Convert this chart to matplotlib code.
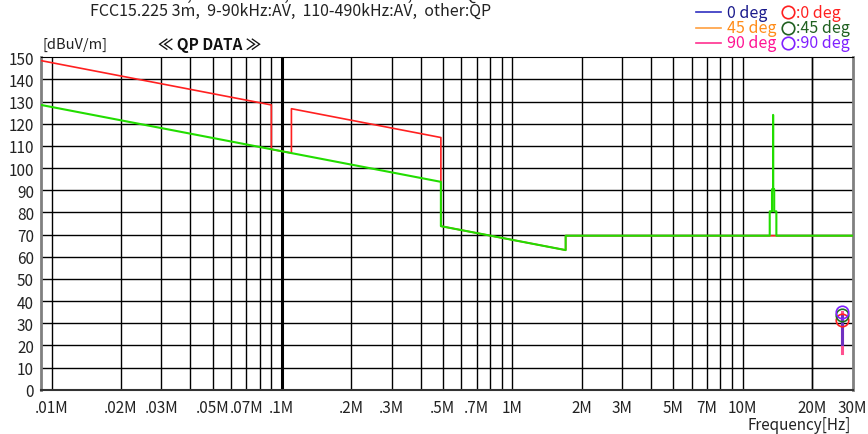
import numpy as np
import matplotlib
matplotlib.use('Agg')
import matplotlib.pyplot as plt
from matplotlib.lines import Line2D

plt.rcParams['font.family'] = ['Noto Sans CJK JP', 'DejaVu Sans']

# Limit lines (frequency in Hz, level in dBuV/m)
peak_f = [9e3, 90e3, 90e3, 110e3, 110e3, 490e3, 490e3, 1.705e6, 1.705e6, 30e6]
peak_db = [148.5, 128.5, 108.5, 106.8, 126.8, 113.8, 73.8, 63.0, 69.5, 69.5]

avg_f = [9e3, 490e3, 490e3, 1.705e6, 1.705e6, 13.11e6, 13.11e6, 13.41e6, 13.41e6,
         13.553e6, 13.553e6, 13.567e6, 13.567e6, 13.71e6, 13.71e6, 14.01e6, 14.01e6, 30e6]
avg_db = [128.5, 93.8, 73.8, 63.0, 69.5, 69.5, 80.5, 80.5, 90.5,
          90.5, 124.0, 124.0, 90.5, 90.5, 80.5, 80.5, 69.5, 69.5]

# Measured traces / QP points at 27.12 MHz
meas_f = 27.12e6
trace_90 = [16.5, 34.9]
trace_0 = [20.5, 33.5]
qp_0 = 31.5
qp_45 = 33.7
qp_90 = 34.9

xtick_vals = [1e4, 2e4, 3e4, 5e4, 7e4, 1e5, 2e5, 3e5, 5e5, 7e5,
              1e6, 2e6, 3e6, 5e6, 7e6, 1e7, 2e7, 3e7]
xtick_labels = ['.01M', '.02M', '.03M', '.05M', '.07M', '.1M', '.2M', '.3M', '.5M', '.7M',
                '1M', '2M', '3M', '5M', '7M', '10M', '20M', '30M']
ytick_vals = list(range(0, 151, 10))

fig = plt.figure(figsize=(8.68, 4.35), dpi=100)
ax = fig.add_axes([0.0472, 0.1018, 0.935, 0.7642])
ax.set_xscale('log')
ax.set_xlim(9e3, 30e6)
ax.set_ylim(0, 150)

# grid
for dec in [1e4, 1e5, 1e6, 1e7]:
    for m in range(1, 10):
        f = dec * m
        if f >= 30e6:
            continue
        lw = 2.2 if f == 1e5 else 1.0
        ax.axvline(f, color='black', lw=lw, zorder=1)
ax.axvline(2e7, color='black', lw=1.0, zorder=1)
for y in ytick_vals[1:-1]:
    ax.axhline(y, color='black', lw=1.0, zorder=1)

ax.plot(peak_f, peak_db, color='#ff2020', lw=1.2, zorder=3)
ax.plot(avg_f, avg_db, color='#22dd00', lw=1.5, zorder=4)

ax.plot([meas_f, meas_f], trace_90, color='#ff5090', lw=2.2, zorder=5)
ax.plot([meas_f, meas_f], trace_0, color='#7030c0', lw=2.2, zorder=6)
ax.plot(meas_f, qp_0, 'o', mfc='none', mec='#ff2020', ms=9, mew=1.2, zorder=7)
ax.plot(meas_f, qp_45, 'o', mfc='none', mec='#207020', ms=9, mew=1.2, zorder=7)
ax.plot(meas_f, qp_90, 'o', mfc='none', mec='#8020ff', ms=9, mew=1.2, zorder=7)

ax.set_xticks(xtick_vals)
ax.set_xticklabels(xtick_labels)
ax.xaxis.set_minor_locator(matplotlib.ticker.NullLocator())
ax.set_yticks(ytick_vals)
ax.tick_params(axis='both', length=0, labelsize=11, colors='#222222')
ax.tick_params(axis='x', pad=7)
ax.tick_params(axis='y', pad=5)

for s in ['left', 'right']:
    ax.spines[s].set_color('#808080')
    ax.spines[s].set_linewidth(2)
ax.spines['top'].set_color('black')
ax.spines['bottom'].set_color('#333333')
ax.spines['bottom'].set_linewidth(1.5)

# texts
fig.text(30 / 868, 1 + 5 / 435, 'LMT2:  FCC15.225 3m,  9-90kHz:PK,  110-490kHz:PK,  other:QP',
         fontsize=11.5, va='center', ha='left', color='#222222')
fig.text(90 / 868, 1 - 11.5 / 435, 'FCC15.225 3m,  9-90kHz:AV,  110-490kHz:AV,  other:QP',
         fontsize=11.5, va='center', ha='left', color='#222222')
fig.text(43 / 868, 1 - 45 / 435, '[dBuV/m]', fontsize=10.5, va='center', ha='left', color='#222222')
fig.text(158 / 868, 1 - 45 / 435, '≪ QP DATA ≫', fontsize=11, fontweight='bold',
         va='center', ha='left', color='#111111')
fig.text(851 / 868, 1 - 426 / 435, 'Frequency[Hz]', fontsize=11, va='center', ha='right',
         color='#222222')

# legend
legend_rows = [('0 deg', '#1a1a8c', '#3030c0', ':0 deg', '#ff2020'),
               ('45 deg', '#ff8c1a', '#ffa040', ':45 deg', '#206020'),
               ('90 deg', '#ff1493', '#ff3090', ':90 deg', '#8020ff')]
for i, (lab, tcol, lcol, plab, pcol) in enumerate(legend_rows):
    yy = 1 - (13 + 15.5 * i) / 435
    fig.add_artist(Line2D([696 / 868, 721 / 868], [yy, yy], color=lcol, lw=1.2))
    fig.text(727 / 868, yy, lab, fontsize=11.5, color=tcol, va='center', ha='left')
    fig.add_artist(Line2D([788 / 868], [yy], marker='o', mfc='none', mec=pcol, ms=9, mew=1.2))
    fig.text(796 / 868, yy, plab, fontsize=11.5, color=pcol, va='center', ha='left')

fig.savefig('out.png', dpi=100)
